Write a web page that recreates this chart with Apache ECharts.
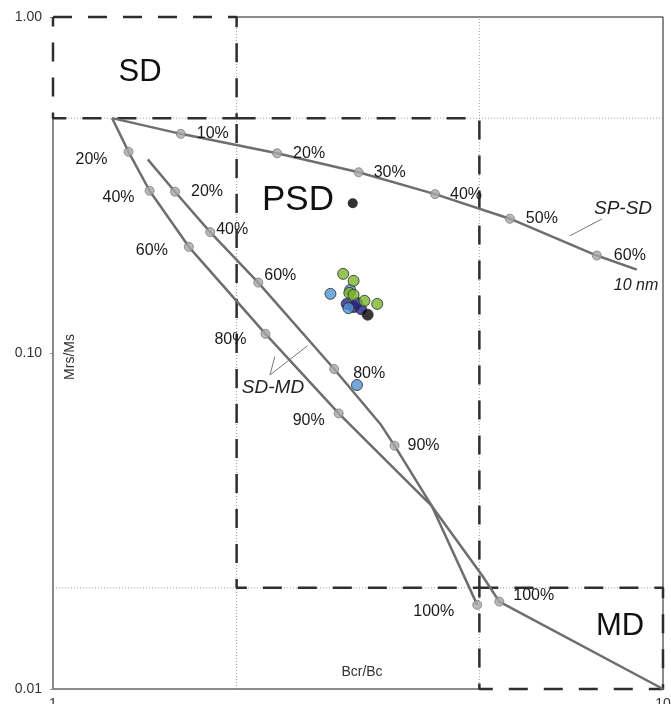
<!DOCTYPE html>
<html>
<head>
<meta charset="utf-8">
<script src="https://cdn.jsdelivr.net/npm/echarts@6/dist/echarts.min.js"></script>
<style>
html,body{margin:0;padding:0;background:#fff;}
#chart{width:671px;height:704px;}
</style>
</head>
<body>
<div id="chart"></div>
<script>
// ---- axis ranges and Day-plot domain limits ----
const xRange = [1, 10];          // Bcr/Bc
const yRange = [0.01, 1];        // Mrs/Ms
const bcrBcLimits = [2, 5];
const mrsMsLimits = [0.5, 0.02];
const xTickValues = [1, 10];
const yTickValues = [0.01, 0.1, 1];

// ---- SP-SD mixing curve ----
const spsdX = [1.25, 1.62, 2.33, 3.17, 4.23, 5.61, 7.79, 9.06];
const spsdY = [0.500, 0.449, 0.393, 0.345, 0.297, 0.251, 0.195, 0.177];
const spsdPct = ['', '10%', '20%', '30%', '40%', '50%', '60%', ''];

// ---- SD-MD mixing curve 1 ----
const sdmd1X = [1.25, 1.33, 1.44, 1.67, 2.23, 2.94, 4.18, 5.06, 5.39, 10];
const sdmd1Y = [0.500, 0.397, 0.304, 0.207, 0.114, 0.0661, 0.0350, 0.0217, 0.0182, 0.01];
const sdmd1Pct = ['', '20%', '40%', '60%', '80%', '90%', '', '', '100%', ''];

// ---- SD-MD mixing curve 2 ----
const sdmd2X = [1.43, 1.585, 1.81, 2.17, 2.89, 3.44, 3.63, 4.18, 4.96];
const sdmd2Y = [0.377, 0.302, 0.229, 0.162, 0.0896, 0.0615, 0.0530, 0.0350, 0.0178];
const sdmd2Pct = ['', '20%', '40%', '60%', '80%', '', '90%', '', '100%'];

// ---- leader lines for curve names ----
const spsdLeaderX = [7.04, 7.94];
const spsdLeaderY = [0.2234, 0.2505];
const sdmdLeaderX = [2.31, 2.268, 2.614];
const sdmdLeaderY = [0.0976, 0.0860, 0.1051];

// ---- samples ----
const psdDotX = [3.10];
const psdDotY = [0.279];
const navyX = [3.03, 3.11, 3.20, 3.15];
const navyY = [0.140, 0.137, 0.135, 0.141];
const blueX = [2.85, 3.07, 3.05, 3.15];
const blueY = [0.150, 0.154, 0.136, 0.0803];
const greenX = [2.99, 3.11, 3.06, 3.11, 3.24, 3.40];
const greenY = [0.172, 0.164, 0.151, 0.149, 0.143, 0.140];
const blackX = [3.28];
const blackY = [0.130];

// ---- label placement (style only) ----
const spsdLabelPos = [null, ['right',11,0], ['right',11,0], ['right',10,0], ['right',10,0], ['right',11,0], ['right',12,0], null];
const sdmd1LabelPos = [null, ['left',16,8], ['left',10,7], ['left',16,4], ['left',14,6], ['left',9,7], null, null, ['right',9,-6], null];
const sdmd2LabelPos = [null, ['right',11,0], ['right',1,-3], ['right',1,-7], ['right',14,5], null, ['right',8,0], null, ['left',18,7]];

const FONT = 'Liberation Sans, Arial, Helvetica, sans-serif';
const pair = (xs, ys) => xs.map((x, i) => [x, ys[i]]);

function lineSeries(data, lineStyle, z) {
  return { type: 'line', data: data, symbol: 'none', lineStyle: lineStyle, clip: false, silent: true, z: z, animation: false };
}
function markerSeries(xs, ys, pcts, pos) {
  const data = [];
  xs.forEach((x, i) => {
    if (!pcts[i]) return;
    const p = pos[i];
    data.push({
      value: [x, ys[i]],
      label: { show: true, formatter: pcts[i], position: p[0], distance: p[1], offset: [0, p[2]] }
    });
  });
  return {
    type: 'scatter', data: data, symbol: 'circle', symbolSize: 9, z: 6,
    itemStyle: { color: '#a8a8a8', borderColor: '#7c7c7c', borderWidth: 1 },
    label: { fontSize: 16, fontFamily: FONT, color: '#1a1a1a', textBorderWidth: 0, opacity: 1 },
    emphasis: { disabled: true }, silent: true
  };
}
function sampleSeries(xs, ys, color, z) {
  return {
    type: 'scatter', data: pair(xs, ys), symbol: 'circle', symbolSize: 11, z: z,
    itemStyle: { color: color, borderColor: '#2a2a2a', borderWidth: 1 }, silent: true
  };
}

const [x0, x1] = xRange, [y0, y1] = yRange;
const [b2, b5] = bcrBcLimits, [m05, m002] = mrsMsLimits;

const dotted = { color: '#a0a0a0', width: 1, type: [1, 2] };
const frame = { color: '#666', width: 1.5 };
const dashed = { color: '#2e2e2e', width: 2.5, type: [19, 16] };
const curve = { color: '#6e6e6e', width: 2.5 };
const leader = { color: '#777', width: 1 };

const series = [
  lineSeries([[b2, y0], [b2, y1]], dotted, 1),
  lineSeries([[b5, y0], [b5, y1]], dotted, 1),
  lineSeries([[x0, m05], [x1, m05]], dotted, 1),
  lineSeries([[x0, m002], [x1, m002]], dotted, 1),
  lineSeries([[x0, m05], [x0, y0], [b5, y0]], frame, 2),
  lineSeries([[b2, y1], [x1, y1], [x1, y0]], frame, 2),
  lineSeries([[x0, y1], [b2, y1], [b2, m05], [x0, m05], [x0, y1]], dashed, 3),
  lineSeries([[b2, m05], [b5, m05], [b5, m002], [b2, m002], [b2, m05]], dashed, 3),
  lineSeries([[b5, m002], [x1, m002], [x1, y0], [b5, y0], [b5, m002]], dashed, 3),
  lineSeries(pair(spsdX, spsdY), curve, 4),
  lineSeries(pair(sdmd1X, sdmd1Y), curve, 4),
  lineSeries(pair(sdmd2X, sdmd2Y), curve, 4),
  lineSeries(pair(spsdLeaderX, spsdLeaderY), leader, 4),
  lineSeries(pair(sdmdLeaderX, sdmdLeaderY), leader, 4),
  markerSeries(spsdX, spsdY, spsdPct, spsdLabelPos),
  markerSeries(sdmd1X, sdmd1Y, sdmd1Pct, sdmd1LabelPos),
  markerSeries(sdmd2X, sdmd2Y, sdmd2Pct, sdmd2LabelPos),
  { type: 'scatter', data: pair(psdDotX, psdDotY), symbol: 'circle', symbolSize: 10, itemStyle: { color: '#000' }, z: 7, silent: true },
  sampleSeries(navyX, navyY, '#23238a', 7),
  sampleSeries(blueX, blueY, '#5095d3', 8),
  sampleSeries(greenX, greenY, '#79b52b', 9),
  sampleSeries(blackX, blackY, '#050505', 10)
];

const chart = echarts.init(document.getElementById('chart'), null, { renderer: 'canvas' });
chart.setOption({
  animation: false,
  backgroundColor: '#fff',
  grid: { left: 53, right: 8, top: 17, bottom: 15, containLabel: false, outerBoundsMode: 'none' },
  xAxis: {
    type: 'log', logBase: 10, min: x0, max: x1,
    axisLine: { show: false }, axisTick: { show: false }, splitLine: { show: false },
    axisLabel: {
      fontSize: 14, fontFamily: FONT, color: '#333', margin: 8,
      formatter: v => { const r = Math.round(v); return xTickValues.indexOf(r) >= 0 ? String(r) : ''; }
    }
  },
  yAxis: {
    type: 'log', logBase: 10, min: y0, max: y1,
    axisLine: { show: false }, splitLine: { show: false },
    axisTick: { show: true, length: 3, lineStyle: { color: '#999' } },
    axisLabel: {
      fontSize: 14, fontFamily: FONT, color: '#333', margin: 11,
      formatter: v => yTickValues.some(t => Math.abs(t - v) < 1e-9) ? v.toFixed(2) : ''
    }
  },
  graphic: [
    { type: 'text', x: 140, y: 72, style: { text: 'SD', font: '31px ' + FONT, fill: '#111', align: 'center', verticalAlign: 'middle' } },
    { type: 'text', x: 298, y: 200, style: { text: 'PSD', font: '35px ' + FONT, fill: '#111', align: 'center', verticalAlign: 'middle' } },
    { type: 'text', x: 620, y: 626, style: { text: 'MD', font: '31px ' + FONT, fill: '#111', align: 'center', verticalAlign: 'middle' } },
    { type: 'text', x: 623, y: 209, style: { text: 'SP-SD', font: 'italic 19px ' + FONT, fill: '#222', align: 'center', verticalAlign: 'middle' } },
    { type: 'text', x: 636, y: 286, style: { text: '10 nm', font: 'italic 16px ' + FONT, fill: '#222', align: 'center', verticalAlign: 'middle' } },
    { type: 'text', x: 273, y: 388, style: { text: 'SD-MD', font: 'italic 19px ' + FONT, fill: '#222', align: 'center', verticalAlign: 'middle' } },
    { type: 'text', x: 70, y: 357, rotation: Math.PI / 2, style: { text: 'Mrs/Ms', font: '14px ' + FONT, fill: '#333', align: 'center', verticalAlign: 'middle' } },
    { type: 'text', x: 362, y: 672, style: { text: 'Bcr/Bc', font: '14px ' + FONT, fill: '#333', align: 'center', verticalAlign: 'middle' } }
  ],
  series: series
});
</script>
</body>
</html>
